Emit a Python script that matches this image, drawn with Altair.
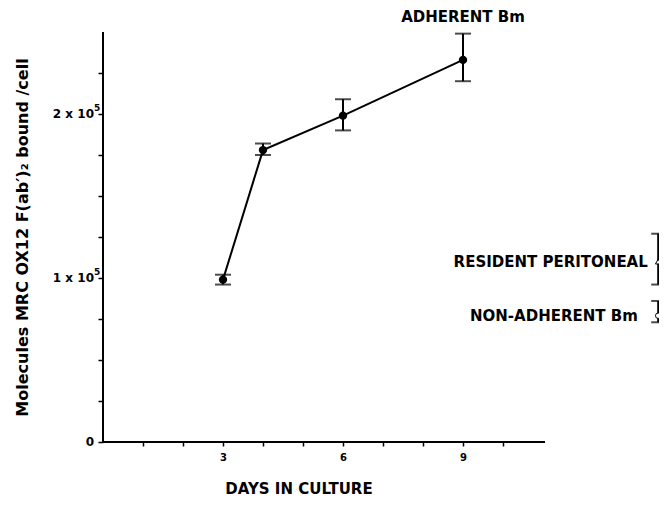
import altair as alt
import pandas as pd

# Adherent Bm series
days = [3, 4, 6, 9]
means = [0.99e5, 1.78e5, 1.99e5, 2.33e5]
lows = [0.96e5, 1.75e5, 1.90e5, 2.20e5]
highs = [1.02e5, 1.82e5, 2.09e5, 2.49e5]

# Reference populations (shown at right edge)
ref_labels = ["RESIDENT PERITONEAL", "NON-ADHERENT Bm"]
ref_means = [1.10e5, 0.77e5]
ref_lows = [0.96e5, 0.73e5]
ref_highs = [1.27e5, 0.86e5]
ref_shapes = ["triangle-up", "circle"]

# Y tick labels (mantissa + exponent)
ylab_vals = [0, 100000, 200000]
ylab_base = ["0", "1 x 10", "2 x 10"]
ylab_exp = ["", "5", "5"]

y_ticks = [0, 25000, 50000, 75000, 100000, 125000, 150000, 175000, 200000, 225000]
x_ticks = [1, 2, 3, 4, 5, 6, 7, 8, 9, 10]

FONT = "DejaVu Sans"
XMAX = 13.9
REF_X = 13.88

df = pd.DataFrame({"day": days, "mean": means, "lo": lows, "hi": highs})
ref = pd.DataFrame({"label": ref_labels, "mean": ref_means, "lo": ref_lows,
                    "hi": ref_highs, "shape": ref_shapes, "x": [REF_X, REF_X],
                    "tx": [13.62, 13.37]})
ylab = pd.DataFrame({"v": ylab_vals, "b": ylab_base, "e": ylab_exp, "x": [0, 0, 0]})

xs = alt.Scale(domain=[0, XMAX], nice=False, zero=True)
ys = alt.Scale(domain=[0, 250000], nice=False)

yaxis = alt.Axis(
    values=y_ticks, domain=False, grid=False, tickSize=5, tickWidth=1.5,
    tickColor="black", labels=False,
    title="Molecules MRC OX12 F(ab′)₂ bound /cell", titleFont=FONT, titleFontWeight="bold",
    titleFontSize=16, titleColor="black", titleX=-81, titleY=205, titleAngle=270,
    titleBaseline="middle", titleAlign="center",
)
xaxis = alt.Axis(
    values=x_ticks, domain=False, grid=False, tickSize=4, tickWidth=1.5,
    tickColor="black", labelColor="black", labelFont=FONT, labelFontWeight="bold",
    labelFontSize=10, labelPadding=6,
    labelExpr="(datum.value == 3 || datum.value == 6 || datum.value == 9) ? datum.value : ''",
    title=None,
)

base = alt.Chart(df)

axes_layer = base.mark_point(opacity=0).encode(
    x=alt.X("day:Q", scale=xs, axis=xaxis),
    y=alt.Y("mean:Q", scale=ys, axis=yaxis),
)

# axis lines
xline = alt.Chart(pd.DataFrame({"a": [0], "b": [11.05], "y": [0]})).mark_rule(
    color="black", strokeWidth=2).encode(
    x=alt.X("a:Q", scale=xs), x2="b:Q", y=alt.Y("y:Q", scale=ys))
yline = alt.Chart(pd.DataFrame({"a": [0], "b": [250000], "x": [0]})).mark_rule(
    color="black", strokeWidth=2).encode(
    y=alt.Y("a:Q", scale=ys), y2="b:Q", x=alt.X("x:Q", scale=xs))

ylab_base_t = alt.Chart(ylab).mark_text(
    align="right", baseline="middle", dx=-9, font=FONT, fontWeight="bold",
    fontSize=12, color="black").encode(
    x=alt.X("x:Q", scale=xs), y=alt.Y("v:Q", scale=ys), text="b:N")
ylab_exp_t = alt.Chart(ylab).mark_text(
    align="left", baseline="middle", dx=-9, dy=-6, font=FONT, fontWeight="bold",
    fontSize=9, color="black").encode(
    x=alt.X("x:Q", scale=xs), y=alt.Y("v:Q", scale=ys), text="e:N")

line = base.mark_line(color="black", strokeWidth=2).encode(
    x=alt.X("day:Q", scale=xs), y=alt.Y("mean:Q", scale=ys))
err = base.mark_rule(color="black", strokeWidth=2).encode(
    x=alt.X("day:Q", scale=xs), y=alt.Y("lo:Q", scale=ys), y2="hi:Q")
cap_lo = base.mark_tick(color="black", orient="horizontal", size=16, thickness=2).encode(
    x=alt.X("day:Q", scale=xs), y=alt.Y("lo:Q", scale=ys))
cap_hi = base.mark_tick(color="black", orient="horizontal", size=16, thickness=2).encode(
    x=alt.X("day:Q", scale=xs), y=alt.Y("hi:Q", scale=ys))
pts = base.mark_circle(color="black", size=70, opacity=1).encode(
    x=alt.X("day:Q", scale=xs), y=alt.Y("mean:Q", scale=ys))

rbase = alt.Chart(ref)
rerr = rbase.mark_rule(color="black", strokeWidth=2).encode(
    x=alt.X("x:Q", scale=xs), y=alt.Y("lo:Q", scale=ys), y2="hi:Q")
rcap_lo = rbase.mark_tick(color="black", orient="horizontal", size=14, thickness=2).encode(
    x=alt.X("x:Q", scale=xs), y=alt.Y("lo:Q", scale=ys))
rcap_hi = rbase.mark_tick(color="black", orient="horizontal", size=14, thickness=2).encode(
    x=alt.X("x:Q", scale=xs), y=alt.Y("hi:Q", scale=ys))
rpts = rbase.mark_point(color="black", filled=True, fill="white", stroke="black",
                        strokeWidth=1, size=30, opacity=1).encode(
    x=alt.X("x:Q", scale=xs), y=alt.Y("mean:Q", scale=ys),
    shape=alt.Shape("shape:N", scale=None))
rtext = rbase.mark_text(align="right", baseline="middle", font=FONT, fontWeight="bold",
                        fontSize=15, color="black").encode(
    x=alt.X("tx:Q", scale=xs), y=alt.Y("mean:Q", scale=ys), text="label:N")

title_df = pd.DataFrame({"t": ["ADHERENT Bm"], "x": [9.0], "y": [259000]})
top_text = alt.Chart(title_df).mark_text(
    align="center", baseline="middle", font=FONT, fontWeight="bold", fontSize=15,
    color="black").encode(x=alt.X("x:Q", scale=xs), y=alt.Y("y:Q", scale=ys), text="t:N")

xt_df = pd.DataFrame({"t": ["DAYS IN CULTURE"], "x": [4.9], "y": [-28500]})
x_title = alt.Chart(xt_df).mark_text(
    align="center", baseline="middle", font=FONT, fontWeight="bold", fontSize=15,
    color="black").encode(x=alt.X("x:Q", scale=xs), y=alt.Y("y:Q", scale=ys), text="t:N")

chart = alt.layer(
    axes_layer, xline, yline, ylab_base_t, ylab_exp_t, line, err, cap_lo, cap_hi, pts,
    rerr, rcap_lo, rcap_hi, rpts, rtext, top_text, x_title,
).properties(
    width=556, height=410,
    autosize=alt.AutoSizeParams(type="none"),
    padding={"left": 95, "top": 24, "right": 0, "bottom": 60},
    background="white",
).configure_view(stroke=None, clip=False)

chart.save("out.html", embed_options={"renderer": "svg", "actions": False})
